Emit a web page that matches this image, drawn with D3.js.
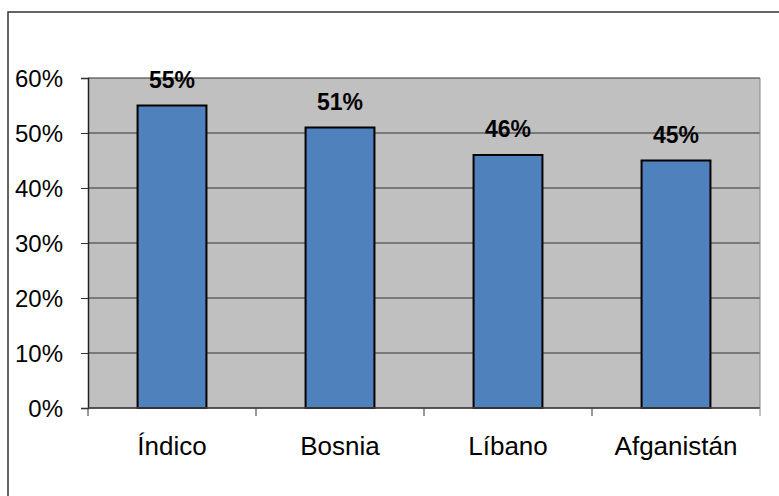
<!DOCTYPE html>
<html>
<head>
<meta charset="utf-8">
<script src="https://cdn.jsdelivr.net/npm/d3@7"></script>
<style>
  html, body { margin: 0; padding: 0; background: #fff; }
  svg { display: block; font-family: "Liberation Sans", Arial, sans-serif; }
</style>
</head>
<body>
<div id="chart"></div>
<script>
// data
var categories = ["Índico", "Bosnia", "Líbano", "Afganistán"];
var values = [55, 51, 46, 45];
var yTicks = [0, 10, 20, 30, 40, 50, 60];

var W = 779, H = 496;
var margin = { top: 78, left: 88, right: 19, bottom: 88 };
var plotW = W - margin.left - margin.right;
var plotH = H - margin.top - margin.bottom;

var svg = d3.select("#chart").append("svg").attr("width", W).attr("height", H);

// outer frame (cut off right and bottom)
svg.append("rect")
    .attr("x", 8).attr("y", 12)
    .attr("width", W).attr("height", H)
    .attr("fill", "#fff").attr("stroke", "#333").attr("stroke-width", 1.5);

var x = d3.scaleBand().domain(categories).range([0, plotW]).paddingInner(0.59).paddingOuter(0.295);
var xTickScale = d3.scaleBand().domain(categories).range([0, plotW]);
var y = d3.scaleLinear().domain([0, 60]).range([plotH, 0]);

var g = svg.append("g").attr("transform", "translate(" + margin.left + "," + margin.top + ")");

g.append("rect").attr("width", plotW).attr("height", plotH).attr("fill", "#c0c0c0");

// gridlines
g.selectAll(".grid").data(yTicks).enter().append("line")
    .attr("x1", 0).attr("x2", plotW)
    .attr("y1", function(d) { return y(d); }).attr("y2", function(d) { return y(d); })
    .attr("stroke", "#333").attr("stroke-width", 1);

// right edge
g.append("line").attr("x1", plotW).attr("x2", plotW).attr("y1", 0).attr("y2", plotH)
    .attr("stroke", "#888").attr("stroke-width", 1);

// y axis
var yAxis = g.append("g").call(d3.axisLeft(y).tickValues(yTicks).tickSize(7).tickFormat(function(d) { return d + "%"; }));
yAxis.attr("font-size", null).attr("font-family", null);
yAxis.select(".domain").attr("stroke", "#222").attr("stroke-width", 1.5);
yAxis.selectAll(".tick line").attr("stroke", "#333");
yAxis.selectAll(".tick text").attr("x", -25).attr("dy", "0.36em").attr("fill", "#000")
    .style("font-size", "24px");

// bars
g.selectAll(".bar").data(values).enter().append("rect")
    .attr("x", function(d, i) { return x(categories[i]); })
    .attr("y", function(d) { return y(d); })
    .attr("width", x.bandwidth())
    .attr("height", function(d) { return plotH - y(d); })
    .attr("fill", "#4f81bd").attr("stroke", "#000").attr("stroke-width", 2);

// value labels
g.selectAll(".val").data(values).enter().append("text")
    .attr("x", function(d, i) { return x(categories[i]) + x.bandwidth() / 2; })
    .attr("y", function(d) { return y(d) - 18; })
    .attr("text-anchor", "middle")
    .style("font-size", "23px").style("font-weight", "bold")
    .text(function(d) { return d + "%"; });

// x axis
g.append("line").attr("x1", 0).attr("x2", plotW).attr("y1", plotH).attr("y2", plotH)
    .attr("stroke", "#444").attr("stroke-width", 1.5);
var xBounds = [0].concat(categories.map(function(c) { return xTickScale(c) + xTickScale.bandwidth(); }));
g.selectAll(".xtick").data(xBounds).enter().append("line")
    .attr("x1", function(d) { return d; }).attr("x2", function(d) { return d; })
    .attr("y1", plotH).attr("y2", plotH + 8)
    .attr("stroke", function(d, i) { return i === xBounds.length - 1 ? "#888" : "#333"; });
g.selectAll(".xlab").data(categories).enter().append("text")
    .attr("x", function(d) { return xTickScale(d) + xTickScale.bandwidth() / 2; })
    .attr("y", plotH + 47)
    .attr("text-anchor", "middle")
    .style("font-size", "26px")
    .text(function(d) { return d; });
</script>
</body>
</html>
